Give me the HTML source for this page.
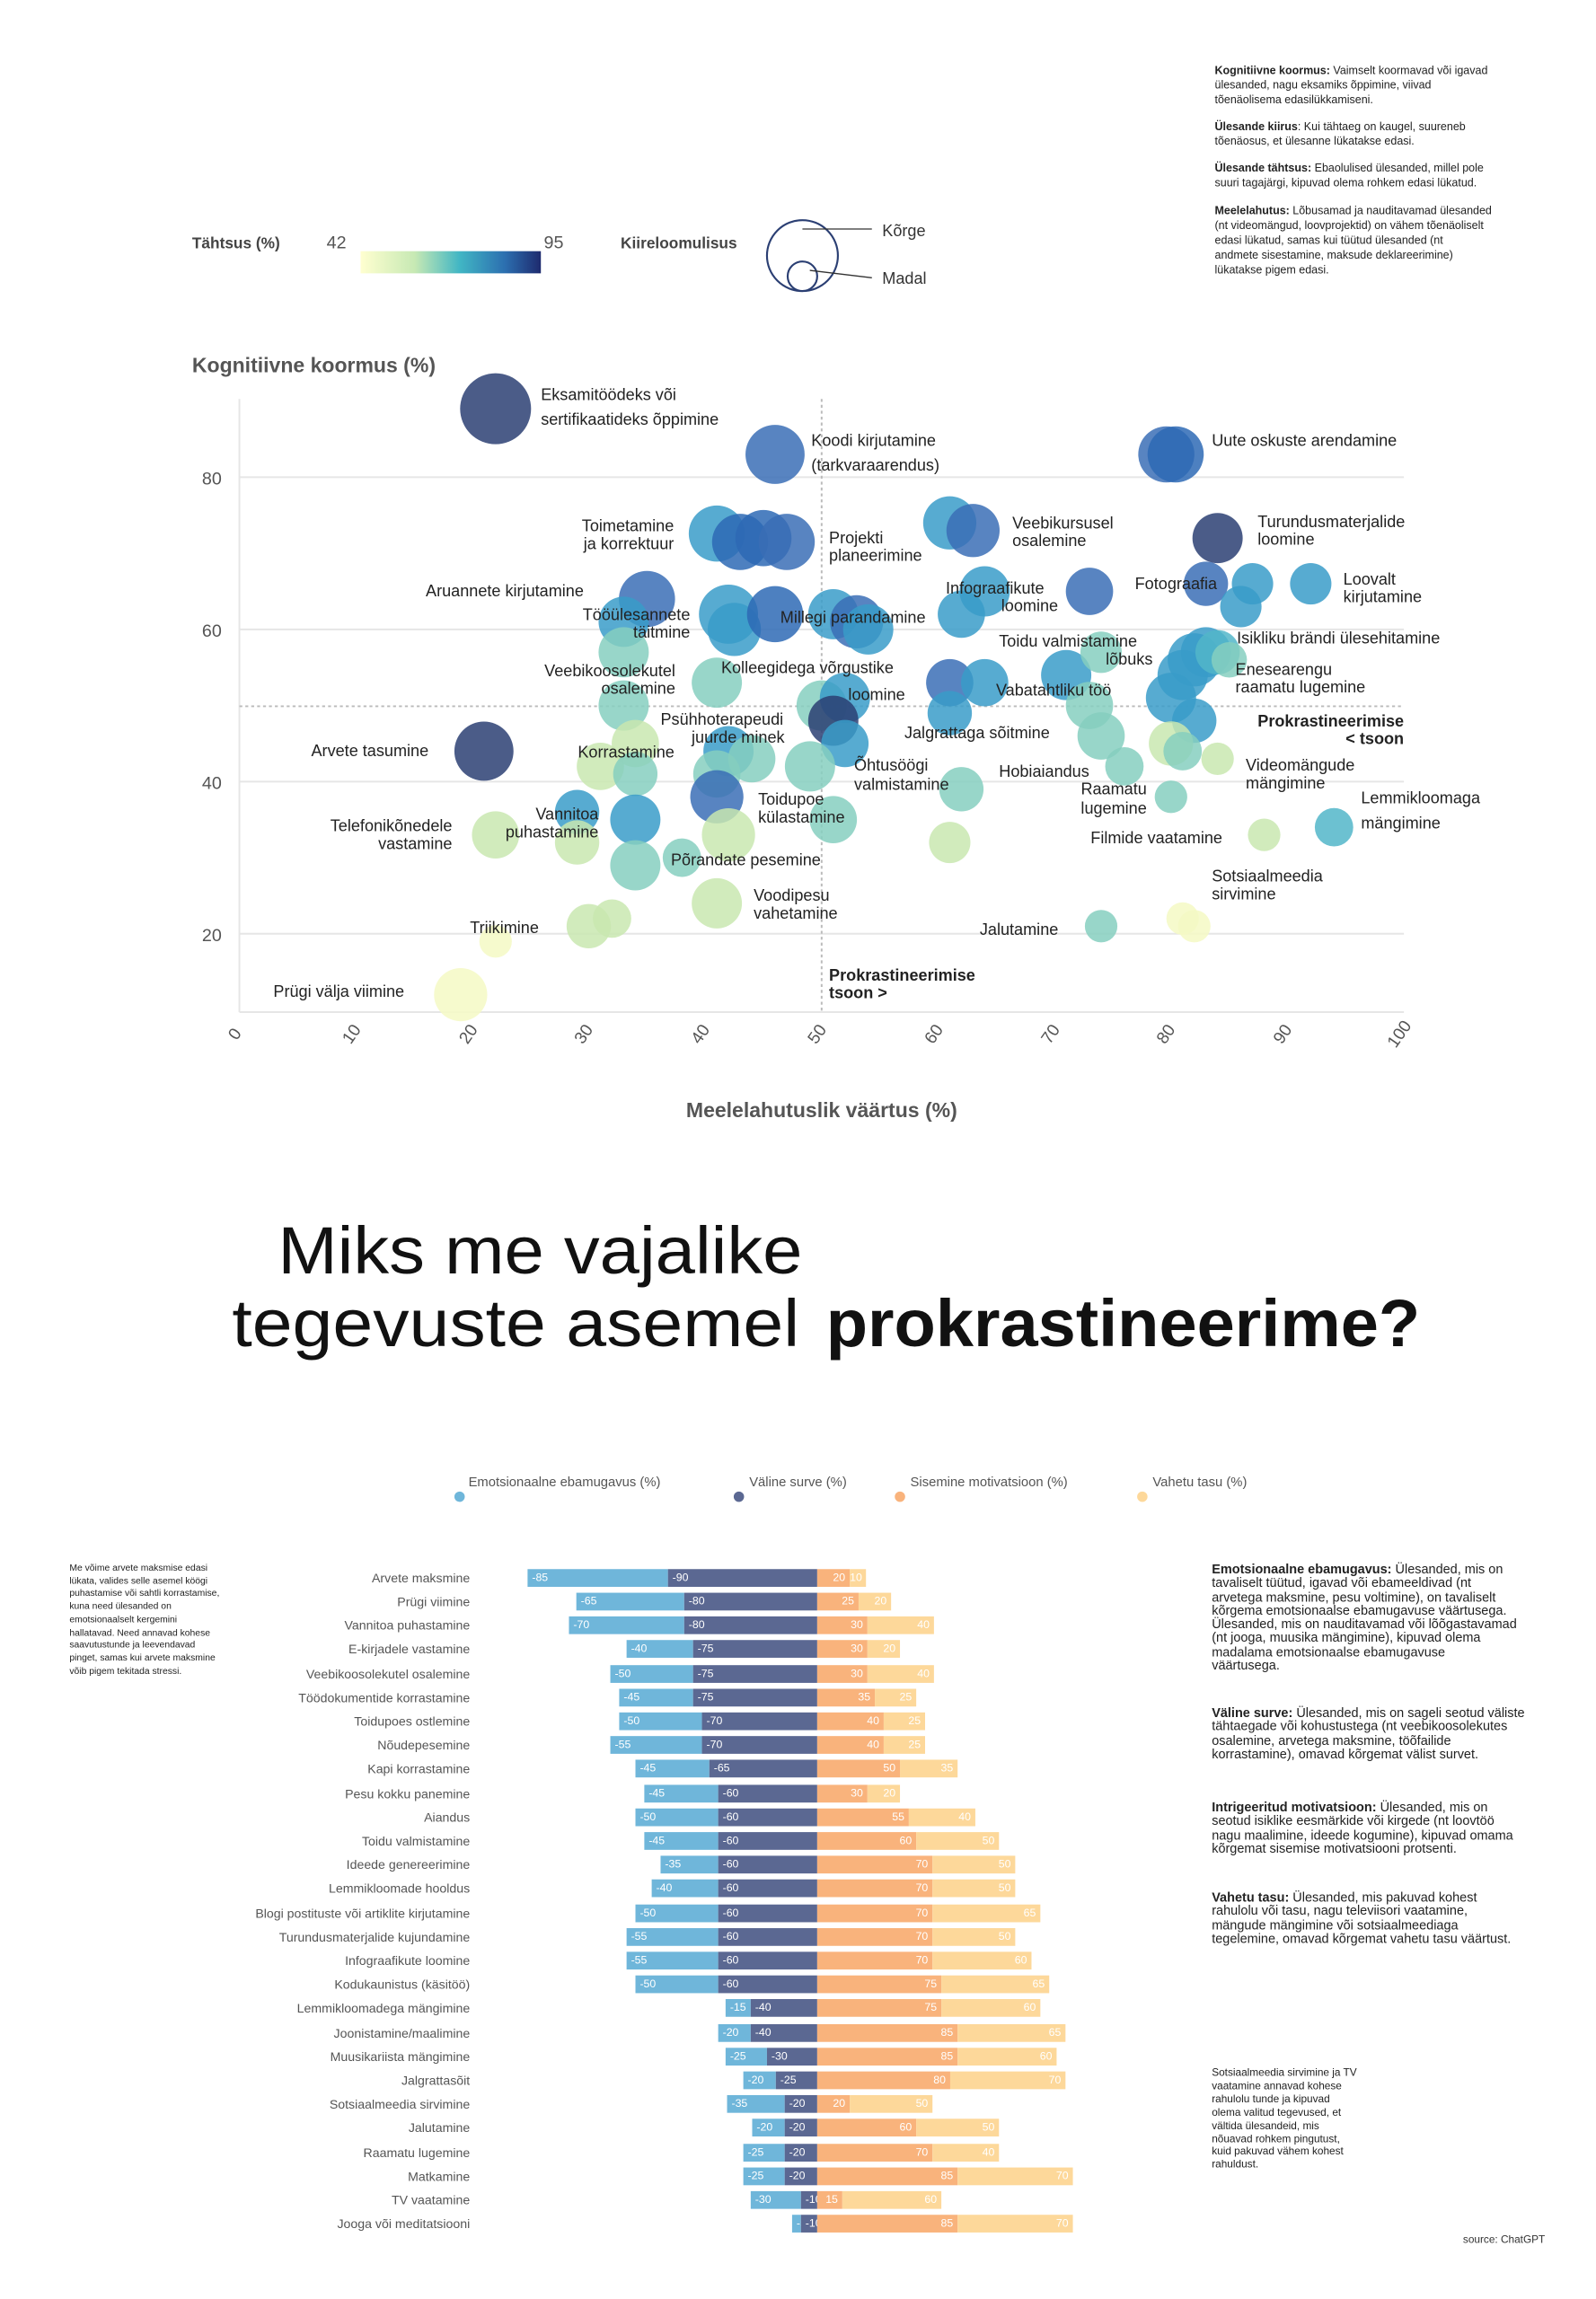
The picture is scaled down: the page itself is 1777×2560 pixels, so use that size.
<!DOCTYPE html>
<html><head><meta charset="utf-8">
<style>
html,body{margin:0;padding:0;background:#fff;}
body{width:1777px;height:2560px;overflow:hidden;position:relative;}
#w{position:absolute;left:0;top:0;width:1080px;height:1556px;transform:scale(1.64537,1.64524);transform-origin:0 0;font-family:"Liberation Sans",sans-serif;color:#222;}
.t{position:absolute;white-space:nowrap;}
.note{position:absolute;font-size:7.6px;line-height:10px;color:#222;}
.row{position:absolute;left:0;width:1080px;height:12px;}
.neg{position:absolute;left:0;width:553px;height:12px;display:flex;justify-content:flex-end;}
.pos{position:absolute;left:553px;width:500px;height:12px;display:flex;}
.neg div,.pos div{height:12px;font-size:7.5px;line-height:12px;color:#fff;box-sizing:border-box;overflow:visible;white-space:nowrap;}
.neg div{padding-left:3px;text-align:left;}
.pos div{padding-right:3px;text-align:right;}
.e{background:#6fb6da;}.v{background:#5b6892;}.m{background:#f9b37c;}.i{background:#fdd89a;}
.lab{position:absolute;right:762px;font-size:8.6px;line-height:12px;color:#555;white-space:nowrap;}
.rn{position:absolute;left:820px;font-size:8.8px;line-height:9.3px;color:#222;}
</style></head><body><div id="w">

<div class="note" style="left:822px;top:43px;"><b>Kognitiivne koormus:</b> Vaimselt koormavad või igavad<br>ülesanded, nagu eksamiks õppimine, viivad<br>tõenäolisema edasilükkamiseni.</div>
<div class="note" style="left:822px;top:81px;"><b>Ülesande kiirus</b>: Kui tähtaeg on kaugel, suureneb<br>tõenäosus, et ülesanne lükatakse edasi.</div>
<div class="note" style="left:822px;top:109px;"><b>Ülesande tähtsus:</b> Ebaolulised ülesanded, millel pole<br>suuri tagajärgi, kipuvad olema rohkem edasi lükatud.</div>
<div class="note" style="left:822px;top:138px;"><b>Meelelahutus:</b> Lõbusamad ja nauditavamad ülesanded<br>(nt videomängud, loovprojektid) on vähem tõenäoliselt<br>edasi lükatud, samas kui tüütud ülesanded (nt<br>andmete sisestamine, maksude deklareerimine)<br>lükatakse pigem edasi.</div>

<svg style="position:absolute;left:0;top:0" width="1080" height="800" viewBox="0 0 1080 800" font-family="Liberation Sans, sans-serif">
<defs><linearGradient id="g" x1="0" x2="1"><stop offset="0" stop-color="#ffffd0"/><stop offset="0.3" stop-color="#c7e9b4"/><stop offset="0.55" stop-color="#41b6c4"/><stop offset="0.8" stop-color="#2c6fb0"/><stop offset="1" stop-color="#1e2a6e"/></linearGradient></defs>
<text x="130" y="168" font-size="10.5" font-weight="bold" fill="#444">Tähtsus (%)</text>
<text x="221" y="168" font-size="12" fill="#555">42</text>
<text x="368" y="168" font-size="12" fill="#555">95</text>
<rect x="244" y="170" width="122" height="15" fill="url(#g)"/>
<text x="420" y="168" font-size="10.5" font-weight="bold" fill="#444">Kiireloomulisus</text>
<circle cx="543" cy="173" r="24" fill="none" stroke="#2b3f73" stroke-width="1.3"/>
<circle cx="543" cy="187" r="10" fill="none" stroke="#2b3f73" stroke-width="1.3"/>
<line x1="543" y1="155" x2="590" y2="155" stroke="#333" stroke-width="0.8"/>
<line x1="548" y1="183" x2="590" y2="188" stroke="#333" stroke-width="0.8"/>
<text x="597" y="160" font-size="11" fill="#333">Kõrge</text>
<text x="597" y="192" font-size="11" fill="#333">Madal</text>

<text x="130" y="252" font-size="14" font-weight="bold" fill="#555">Kognitiivne koormus (%)</text>
<g stroke="#e6e6e6" stroke-width="1.2">
<line x1="162" y1="323" x2="950" y2="323"/><line x1="162" y1="426" x2="950" y2="426"/>
<line x1="162" y1="529" x2="950" y2="529"/><line x1="162" y1="632" x2="950" y2="632"/>
<line x1="162" y1="685" x2="950" y2="685"/><line x1="162" y1="270" x2="162" y2="685"/>
</g>
<g stroke="#bbb" stroke-width="1.2" stroke-dasharray="2,2">
<line x1="556" y1="270" x2="556" y2="685"/><line x1="162" y1="478" x2="950" y2="478"/>
</g>
<g font-size="12" fill="#555" text-anchor="end">
<text x="150" y="328">80</text><text x="150" y="431">60</text><text x="150" y="534">40</text><text x="150" y="637">20</text>
</g>
<g font-size="11.5" fill="#555" text-anchor="middle">
<text transform="translate(162,702) rotate(-55)">0</text>
<text transform="translate(241,702) rotate(-55)">10</text>
<text transform="translate(320,702) rotate(-55)">20</text>
<text transform="translate(398,702) rotate(-55)">30</text>
<text transform="translate(477,702) rotate(-55)">40</text>
<text transform="translate(556,702) rotate(-55)">50</text>
<text transform="translate(635,702) rotate(-55)">60</text>
<text transform="translate(714,702) rotate(-55)">70</text>
<text transform="translate(792,702) rotate(-55)">80</text>
<text transform="translate(871,702) rotate(-55)">90</text>
<text transform="translate(950,702) rotate(-55)">100</text>
</g>
<g id="bub"></g>
<g font-size="11" fill="#222" dominant-baseline="central">
<text x="366" y="267">Eksamitöödeks või</text><text x="366" y="284">sertifikaatideks õppimine</text>
<text x="549" y="298">Koodi kirjutamine</text><text x="549" y="315">(tarkvaraarendus)</text>
<text x="820" y="298">Uute oskuste arendamine</text>
<text x="456" y="356" text-anchor="end">Toimetamine</text><text x="456" y="368" text-anchor="end">ja korrektuur</text>
<text x="561" y="364">Projekti</text><text x="561" y="376">planeerimine</text>
<text x="685" y="354">Veebikursusel</text><text x="685" y="366">osalemine</text>
<text x="851" y="353">Turundusmaterjalide</text><text x="851" y="365">loomine</text>
<text x="395" y="400" text-anchor="end">Aruannete kirjutamine</text>
<text x="768" y="395">Fotograafia</text>
<text x="909" y="392">Loovalt</text><text x="909" y="404">kirjutamine</text>
<text x="640" y="398">Infograafikute</text><text x="716" y="410" text-anchor="end">loomine</text>
<text x="467" y="416" text-anchor="end">Tööülesannete</text><text x="467" y="428" text-anchor="end">täitmine</text>
<text x="528" y="418">Millegi parandamine</text>
<text x="676" y="434">Toidu valmistamine</text><text x="780" y="446" text-anchor="end">lõbuks</text>
<text x="837" y="432">Isikliku brändi ülesehitamine</text>
<text x="457" y="454" text-anchor="end">Veebikoosolekutel</text><text x="457" y="466" text-anchor="end">osalemine</text>
<text x="488" y="452">Kolleegidega võrgustike</text><text x="574" y="470">loomine</text>
<text x="836" y="453">Enesearengu</text><text x="836" y="465">raamatu lugemine</text>
<text x="674" y="467">Vabatahtliku töö</text>
<text x="447" y="487">Psühhoterapeudi</text><text x="468" y="499">juurde minek</text>
<text x="950" y="488" text-anchor="end" font-weight="bold">Prokrastineerimise</text><text x="950" y="500" text-anchor="end" font-weight="bold">&lt; tsoon</text>
<text x="612" y="496">Jalgrattaga sõitmine</text>
<text x="290" y="508" text-anchor="end">Arvete tasumine</text>
<text x="391" y="509">Korrastamine</text>
<text x="578" y="518">Õhtusöögi</text><text x="578" y="531">valmistamine</text>
<text x="676" y="522">Hobiaiandus</text>
<text x="843" y="518">Videomängude</text><text x="843" y="530">mängimine</text>
<text x="776" y="534" text-anchor="end">Raamatu</text><text x="776" y="547" text-anchor="end">lugemine</text>
<text x="513" y="541">Toidupoe</text><text x="513" y="553">külastamine</text>
<text x="921" y="540">Lemmikloomaga</text><text x="921" y="557">mängimine</text>
<text x="405" y="551" text-anchor="end">Vannitoa</text><text x="405" y="563" text-anchor="end">puhastamine</text>
<text x="306" y="559" text-anchor="end">Telefonikõnedele</text><text x="306" y="571" text-anchor="end">vastamine</text>
<text x="738" y="567">Filmide vaatamine</text>
<text x="454" y="582">Põrandate pesemine</text>
<text x="820" y="593">Sotsiaalmeedia</text><text x="820" y="605">sirvimine</text>
<text x="510" y="606">Voodipesu</text><text x="510" y="618">vahetamine</text>
<text x="318" y="628">Triikimine</text>
<text x="663" y="629">Jalutamine</text>
<text x="561" y="660" font-weight="bold">Prokrastineerimise</text><text x="561" y="672" font-weight="bold">tsoon &gt;</text>
<text x="185" y="671">Prügi välja viimine</text>
</g>
<text x="556" y="756" font-size="14" font-weight="bold" fill="#555" text-anchor="middle">Meelelahutuslik väärtus (%)</text>
</svg>

<svg style="position:absolute;left:0;top:800px" width="1080" height="140" viewBox="0 800 1080 140" font-family="Liberation Sans, sans-serif">
<text x="188" y="862" font-size="45" fill="#111" textLength="355" lengthAdjust="spacingAndGlyphs">Miks me vajalike</text>
<text x="157" y="911" font-size="45" fill="#111" textLength="384" lengthAdjust="spacingAndGlyphs">tegevuste asemel</text>
<text x="559" y="911" font-size="45" font-weight="bold" fill="#111" textLength="402" lengthAdjust="spacingAndGlyphs">prokrastineerime?</text>
</svg>

<svg style="position:absolute;left:0;top:990px" width="1080" height="30" viewBox="0 990 1080 30" font-family="Liberation Sans, sans-serif" font-size="9" fill="#555">
<circle cx="311" cy="1013" r="3.5" fill="#6fb6da"/><text x="317" y="1006">Emotsionaalne ebamugavus (%)</text>
<circle cx="500" cy="1013" r="3.5" fill="#5b6892"/><text x="507" y="1006">Väline surve (%)</text>
<circle cx="609" cy="1013" r="3.5" fill="#f9b37c"/><text x="616" y="1006">Sisemine motivatsioon (%)</text>
<circle cx="773" cy="1013" r="3.5" fill="#fdd89a"/><text x="780" y="1006">Vahetu tasu (%)</text>
</svg>

<div class="note" style="left:47px;top:1058px;font-size:6.3px;line-height:8.7px;">Me võime arvete maksmise edasi<br>lükata, valides selle asemel köögi<br>puhastamise või sahtli korrastamise,<br>kuna need ülesanded on<br>emotsionaalselt kergemini<br>hallatavad. Need annavad kohese<br>saavutustunde ja leevendavad<br>pinget, samas kui arvete maksmine<br>võib pigem tekitada stressi.</div>

<div class="rn" style="top:1058px;"><b>Emotsionaalne ebamugavus:</b> Ülesanded, mis on<br>tavaliselt tüütud, igavad või ebameeldivad (nt<br>arvetega maksmine, pesu voltimine), on tavaliselt<br>kõrgema emotsionaalse ebamugavuse väärtusega.<br>Ülesanded, mis on nauditavamad või lõõgastavamad<br>(nt jooga, muusika mängimine), kipuvad olema<br>madalama emotsionaalse ebamugavuse<br>väärtusega.</div>
<div class="rn" style="top:1155px;"><b>Väline surve:</b> Ülesanded, mis on sageli seotud väliste<br>tähtaegade või kohustustega (nt veebikoosolekutes<br>osalemine, arvetega maksmine, töõfailide<br>korrastamine), omavad kõrgemat välist survet.</div>
<div class="rn" style="top:1219px;"><b>Intrigeeritud motivatsioon:</b> Ülesanded, mis on<br>seotud isiklike eesmärkide või kirgede (nt loovtöö<br>nagu maalimine, ideede kogumine), kipuvad omama<br>kõrgemat sisemise motivatsiooni protsenti.</div>
<div class="rn" style="top:1280px;"><b>Vahetu tasu:</b> Ülesanded, mis pakuvad kohest<br>rahulolu või tasu, nagu televiisori vaatamine,<br>mängude mängimine või sotsiaalmeediaga<br>tegelemine, omavad kõrgemat vahetu tasu väärtust.</div>
<div class="note" style="left:820px;top:1399px;font-size:7.2px;line-height:8.9px;">Sotsiaalmeedia sirvimine ja TV<br>vaatamine annavad kohese<br>rahulolu tunde ja kipuvad<br>olema valitud tegevused, et<br>vältida ülesandeid, mis<br>nõuavad rohkem pingutust,<br>kuid pakuvad vähem kohest<br>rahuldust.</div>
<div class="t" style="left:990px;top:1511px;font-size:7.2px;color:#333;">source: ChatGPT</div>

<div class="row" style="top:1062px"><div class="lab">Arvete maksmine</div><div class="neg"><div class="e" style="width:95px">-85</div><div class="v" style="width:101px">-90</div></div><div class="pos"><div class="m" style="width:22px">20</div><div class="i" style="width:11px">10</div></div></div>
<div class="row" style="top:1078px"><div class="lab">Prügi viimine</div><div class="neg"><div class="e" style="width:73px">-65</div><div class="v" style="width:90px">-80</div></div><div class="pos"><div class="m" style="width:28px">25</div><div class="i" style="width:22px">20</div></div></div>
<div class="row" style="top:1094px"><div class="lab">Vannitoa puhastamine</div><div class="neg"><div class="e" style="width:78px">-70</div><div class="v" style="width:90px">-80</div></div><div class="pos"><div class="m" style="width:34px">30</div><div class="i" style="width:45px">40</div></div></div>
<div class="row" style="top:1110px"><div class="lab">E-kirjadele vastamine</div><div class="neg"><div class="e" style="width:45px">-40</div><div class="v" style="width:84px">-75</div></div><div class="pos"><div class="m" style="width:34px">30</div><div class="i" style="width:22px">20</div></div></div>
<div class="row" style="top:1127px"><div class="lab">Veebikoosolekutel osalemine</div><div class="neg"><div class="e" style="width:56px">-50</div><div class="v" style="width:84px">-75</div></div><div class="pos"><div class="m" style="width:34px">30</div><div class="i" style="width:45px">40</div></div></div>
<div class="row" style="top:1143px"><div class="lab">Töödokumentide korrastamine</div><div class="neg"><div class="e" style="width:50px">-45</div><div class="v" style="width:84px">-75</div></div><div class="pos"><div class="m" style="width:39px">35</div><div class="i" style="width:28px">25</div></div></div>
<div class="row" style="top:1159px"><div class="lab">Toidupoes ostlemine</div><div class="neg"><div class="e" style="width:56px">-50</div><div class="v" style="width:78px">-70</div></div><div class="pos"><div class="m" style="width:45px">40</div><div class="i" style="width:28px">25</div></div></div>
<div class="row" style="top:1175px"><div class="lab">Nõudepesemine</div><div class="neg"><div class="e" style="width:62px">-55</div><div class="v" style="width:78px">-70</div></div><div class="pos"><div class="m" style="width:45px">40</div><div class="i" style="width:28px">25</div></div></div>
<div class="row" style="top:1191px"><div class="lab">Kapi korrastamine</div><div class="neg"><div class="e" style="width:50px">-45</div><div class="v" style="width:73px">-65</div></div><div class="pos"><div class="m" style="width:56px">50</div><div class="i" style="width:39px">35</div></div></div>
<div class="row" style="top:1208px"><div class="lab">Pesu kokku panemine</div><div class="neg"><div class="e" style="width:50px">-45</div><div class="v" style="width:67px">-60</div></div><div class="pos"><div class="m" style="width:34px">30</div><div class="i" style="width:22px">20</div></div></div>
<div class="row" style="top:1224px"><div class="lab">Aiandus</div><div class="neg"><div class="e" style="width:56px">-50</div><div class="v" style="width:67px">-60</div></div><div class="pos"><div class="m" style="width:62px">55</div><div class="i" style="width:45px">40</div></div></div>
<div class="row" style="top:1240px"><div class="lab">Toidu valmistamine</div><div class="neg"><div class="e" style="width:50px">-45</div><div class="v" style="width:67px">-60</div></div><div class="pos"><div class="m" style="width:67px">60</div><div class="i" style="width:56px">50</div></div></div>
<div class="row" style="top:1256px"><div class="lab">Ideede genereerimine</div><div class="neg"><div class="e" style="width:39px">-35</div><div class="v" style="width:67px">-60</div></div><div class="pos"><div class="m" style="width:78px">70</div><div class="i" style="width:56px">50</div></div></div>
<div class="row" style="top:1272px"><div class="lab">Lemmikloomade hooldus</div><div class="neg"><div class="e" style="width:45px">-40</div><div class="v" style="width:67px">-60</div></div><div class="pos"><div class="m" style="width:78px">70</div><div class="i" style="width:56px">50</div></div></div>
<div class="row" style="top:1289px"><div class="lab">Blogi postituste või artiklite kirjutamine</div><div class="neg"><div class="e" style="width:56px">-50</div><div class="v" style="width:67px">-60</div></div><div class="pos"><div class="m" style="width:78px">70</div><div class="i" style="width:73px">65</div></div></div>
<div class="row" style="top:1305px"><div class="lab">Turundusmaterjalide kujundamine</div><div class="neg"><div class="e" style="width:62px">-55</div><div class="v" style="width:67px">-60</div></div><div class="pos"><div class="m" style="width:78px">70</div><div class="i" style="width:56px">50</div></div></div>
<div class="row" style="top:1321px"><div class="lab">Infograafikute loomine</div><div class="neg"><div class="e" style="width:62px">-55</div><div class="v" style="width:67px">-60</div></div><div class="pos"><div class="m" style="width:78px">70</div><div class="i" style="width:67px">60</div></div></div>
<div class="row" style="top:1337px"><div class="lab">Kodukaunistus (käsitöö)</div><div class="neg"><div class="e" style="width:56px">-50</div><div class="v" style="width:67px">-60</div></div><div class="pos"><div class="m" style="width:84px">75</div><div class="i" style="width:73px">65</div></div></div>
<div class="row" style="top:1353px"><div class="lab">Lemmikloomadega mängimine</div><div class="neg"><div class="e" style="width:17px">-15</div><div class="v" style="width:45px">-40</div></div><div class="pos"><div class="m" style="width:84px">75</div><div class="i" style="width:67px">60</div></div></div>
<div class="row" style="top:1370px"><div class="lab">Joonistamine/maalimine</div><div class="neg"><div class="e" style="width:22px">-20</div><div class="v" style="width:45px">-40</div></div><div class="pos"><div class="m" style="width:95px">85</div><div class="i" style="width:73px">65</div></div></div>
<div class="row" style="top:1386px"><div class="lab">Muusikariista mängimine</div><div class="neg"><div class="e" style="width:28px">-25</div><div class="v" style="width:34px">-30</div></div><div class="pos"><div class="m" style="width:95px">85</div><div class="i" style="width:67px">60</div></div></div>
<div class="row" style="top:1402px"><div class="lab">Jalgrattasõit</div><div class="neg"><div class="e" style="width:22px">-20</div><div class="v" style="width:28px">-25</div></div><div class="pos"><div class="m" style="width:90px">80</div><div class="i" style="width:78px">70</div></div></div>
<div class="row" style="top:1418px"><div class="lab">Sotsiaalmeedia sirvimine</div><div class="neg"><div class="e" style="width:39px">-35</div><div class="v" style="width:22px">-20</div></div><div class="pos"><div class="m" style="width:22px">20</div><div class="i" style="width:56px">50</div></div></div>
<div class="row" style="top:1434px"><div class="lab">Jalutamine</div><div class="neg"><div class="e" style="width:22px">-20</div><div class="v" style="width:22px">-20</div></div><div class="pos"><div class="m" style="width:67px">60</div><div class="i" style="width:56px">50</div></div></div>
<div class="row" style="top:1451px"><div class="lab">Raamatu lugemine</div><div class="neg"><div class="e" style="width:28px">-25</div><div class="v" style="width:22px">-20</div></div><div class="pos"><div class="m" style="width:78px">70</div><div class="i" style="width:45px">40</div></div></div>
<div class="row" style="top:1467px"><div class="lab">Matkamine</div><div class="neg"><div class="e" style="width:28px">-25</div><div class="v" style="width:22px">-20</div></div><div class="pos"><div class="m" style="width:95px">85</div><div class="i" style="width:78px">70</div></div></div>
<div class="row" style="top:1483px"><div class="lab">TV vaatamine</div><div class="neg"><div class="e" style="width:34px">-30</div><div class="v" style="width:11px">-10</div></div><div class="pos"><div class="m" style="width:17px">15</div><div class="i" style="width:67px">60</div></div></div>
<div class="row" style="top:1499px"><div class="lab">Jooga või meditatsiooni</div><div class="neg"><div class="e" style="width:6px">-5</div><div class="v" style="width:11px">-10</div></div><div class="pos"><div class="m" style="width:95px">85</div><div class="i" style="width:78px">70</div></div></div>

</div>
<script>
var N="#2b3f73",B="#3b6fb6",B2="#2e6ab5",T="#3a9cc9",T2="#52b6c9",LT="#86cfc0",LG="#c9e7b0",PY="#f5f9c4";
var d=[[22,89,24,N],[46,83,20,B],[79.6,83,19,B],[80.4,83,19,B2],[41,72.6,19,T],[43,71.5,19,B2],[45,72,19,B2],[47,71.5,19,B],[61,74,18,T],[63,73,18,B],[84,72,17,N],[35,64,19,B],[33,61,17,T],[42,62,20,T],[42.5,60,18,T],[46,62,19,B2],[51,62,17,T],[53,61,18,B],[54,60,17,T],[64,65,17,T],[62,62,16,T],[73,65,16,B],[83,66,15,B],[87,66,14,T],[92,66,14,T],[86,63,14,T],[82,56,18,T],[83,57,17,T],[81,54,17,T],[84,57,15,T2],[85,56,12,LT],[71,54,17,T],[74,57,14,LT],[73,50,16,LT],[74,46,16,LT],[33,57,17,LT],[33,50,17,LT],[41,53,17,LT],[50,50,17,LT],[52,51,17,T],[51,48,17,N],[52,45,16,T],[61,53,16,B],[64,53,16,T],[61,49,15,T],[80,51,17,T],[82,48,15,T],[80,45,15,LG],[81,44,13,LT],[84,43,11,LG],[21,44,20,N],[31,42,16,LG],[34,45,16,LG],[34,41,15,LT],[42,44,17,T],[44,43,16,LT],[41,41,16,LT],[49,42,17,LT],[41,38,18,B],[42,33,18,LG],[51,35,16,LT],[62,39,15,LT],[76,42,13,LT],[80,38,11,LT],[94,34,13,T2],[88,33,11,LG],[61,32,14,LG],[22,33,16,LG],[29,36,15,T],[34,35,17,T],[29,32,15,LG],[34,29,17,LT],[38,30,13,LT],[41,24,17,LG],[30,21,15,LG],[32,22,13,LG],[22,19,11,PY],[74,21,11,LT],[81,22,11,PY],[82,21,11,PY],[19,12,18,PY]];
var g=document.getElementById("bub"),s="";
d.forEach(function(b){s+='<circle cx="'+(162+b[0]*7.88)+'" cy="'+(735-b[1]*5.15)+'" r="'+b[2]+'" fill="'+b[3]+'" fill-opacity="0.85"/>';});
g.innerHTML=s;
</script>
</body></html>
